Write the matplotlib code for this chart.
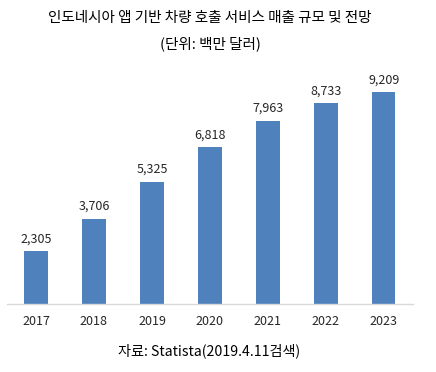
import matplotlib
matplotlib.use('Agg')
import matplotlib.pyplot as plt

plt.rcParams['font.family'] = ['Noto Sans CJK KR', 'DejaVu Sans']

# data
years = ['2017', '2018', '2019', '2020', '2021', '2022', '2023']
revenue = [2305, 3706, 5325, 6818, 7963, 8733, 9209]

BAR_COLOR = '#4f81bd'
TEXT = '#262626'

fig = plt.figure(figsize=(4.36, 3.72), dpi=100)
fig.patch.set_facecolor('white')
ax = fig.add_axes([0.016, 0.183, 0.931, 0.618])

x = range(len(years))
ax.bar(x, revenue, width=0.4, color=BAR_COLOR, edgecolor='none')

for i, v in enumerate(revenue):
    ax.text(i, v + 250, f'{v:,}', ha='center', va='bottom',
            fontsize=9, color=TEXT)

ax.set_xlim(-0.5, len(years) - 0.5)
ax.set_ylim(0, 10000)
ax.set_xticks(list(x))
ax.set_xticklabels(years, fontsize=9, color=TEXT)
ax.tick_params(axis='x', length=0, pad=8)
ax.yaxis.set_visible(False)
for s in ('top', 'right', 'left'):
    ax.spines[s].set_visible(False)
ax.spines['bottom'].set_color('#d9d9d9')
ax.spines['bottom'].set_linewidth(1.0)

fig.text(0.482, 0.952, '인도네시아 앱 기반 차량 호출 서비스 매출 규모 및 전망',
         ha='center', va='center', fontsize=10.5, color='black')
fig.text(0.482, 0.882, '(단위: 백만 달러)', ha='center', va='center',
         fontsize=10.5, color='black')
fig.text(0.48, 0.056, '자료: Statista(2019.4.11검색)', ha='center', va='center',
         fontsize=10.2, color='black')

fig.savefig('out.png', dpi=100, facecolor='white')
